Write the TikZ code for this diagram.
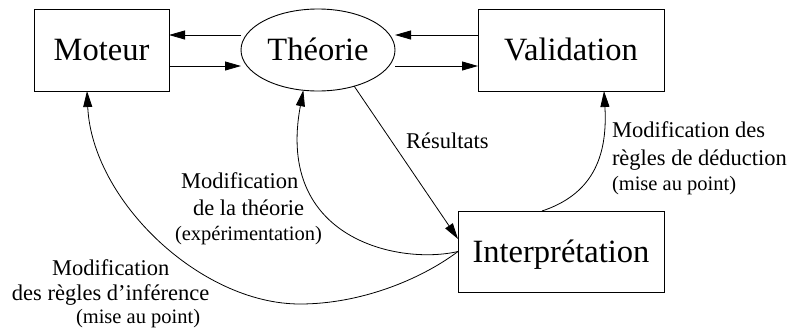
\documentclass[tikz,border=0pt]{standalone}
\usepackage{fontspec}
\setmainfont{Liberation Serif}
\usetikzlibrary{arrows.meta,shapes.geometric}
\begin{document}
\begin{tikzpicture}[x=1pt,y=-1pt,
  every node/.style={inner sep=0pt, outer sep=0pt},
  bigtext/.style={font=\fontsize{32.5}{39}\selectfont, text height=21.5pt, text depth=0pt},
  box/.style={draw, line width=0.9pt, rectangle, bigtext},
  oval/.style={draw, line width=0.9pt, ellipse, bigtext},
  arr/.style={line width=0.8pt, -{Triangle[length=16pt,width=9pt]}},
  lbl/.style={anchor=base west, font=\fontsize{22.5}{27}\selectfont},
  note/.style={anchor=base west, font=\fontsize{20.5}{25}\selectfont},
]
\useasboundingbox (0,0) rectangle (790,335);

% main blocks
\node[box, minimum width=135pt, minimum height=82pt] (mot) at (101.5,50) {Moteur};
\node[oval, minimum width=154pt, minimum height=82pt] (theo) at (318,50) {Théorie};
\node[box, minimum width=186pt, minimum height=82pt] (val) at (571,50) {Validation};
\node[box, minimum width=206pt, minimum height=81pt] (interp) at (561,251.5) {Interprétation};

% exchanges along the top row
\draw[arr] ([yshift=15pt]theo.west) -- ([yshift=15pt]mot.east);
\draw[arr] ([yshift=-16pt]mot.east) -- ([yshift=-16pt]theo.west);
\draw[arr] ([yshift=15pt]val.west) -- ([yshift=15pt]theo.east);
\draw[arr] ([yshift=-16pt]theo.east) -- ([yshift=-16pt]val.west);

% results go to interpretation
\draw[arr] (theo.-45) -- ([yshift=12.5pt]interp.west);

% feedback loops from interpretation
\coordinate (low) at (300,304);
\draw[arr] (interp.west) .. controls (400,265) and (275,240) .. (theo.250);
\draw[arr] (interp.west) .. controls (420,280) and (360,304) .. (low)
  .. controls (200,304) and (92,200) .. ([xshift=-14.5pt]mot.south);
\draw[arr] ([xshift=-19pt]interp.north) .. controls (590,195) and (608,160) .. ([xshift=33pt]val.south);

% labels
\node[lbl] (res) at (406,148) {Résultats};

\node[lbl] (vd1) at (612,137) {Modification des};
\node[lbl] (vd2) at (612,165) {règles de déduction};
\node[note] (vd3) at (612,190) {(mise au point)};

\node[lbl] (th1) at (181,188) {Modification};
\node[lbl] (th2) at (193,215) {de la théorie};
\node[note] (th3) at (175,240) {(expérimentation)};

\node[lbl] (mi1) at (52,275) {Modification};
\node[lbl] (mi2) at (12,300) {des règles d’inférence};
\node[note] (mi3) at (76,323) {(mise au point)};
\end{tikzpicture}
\end{document}
